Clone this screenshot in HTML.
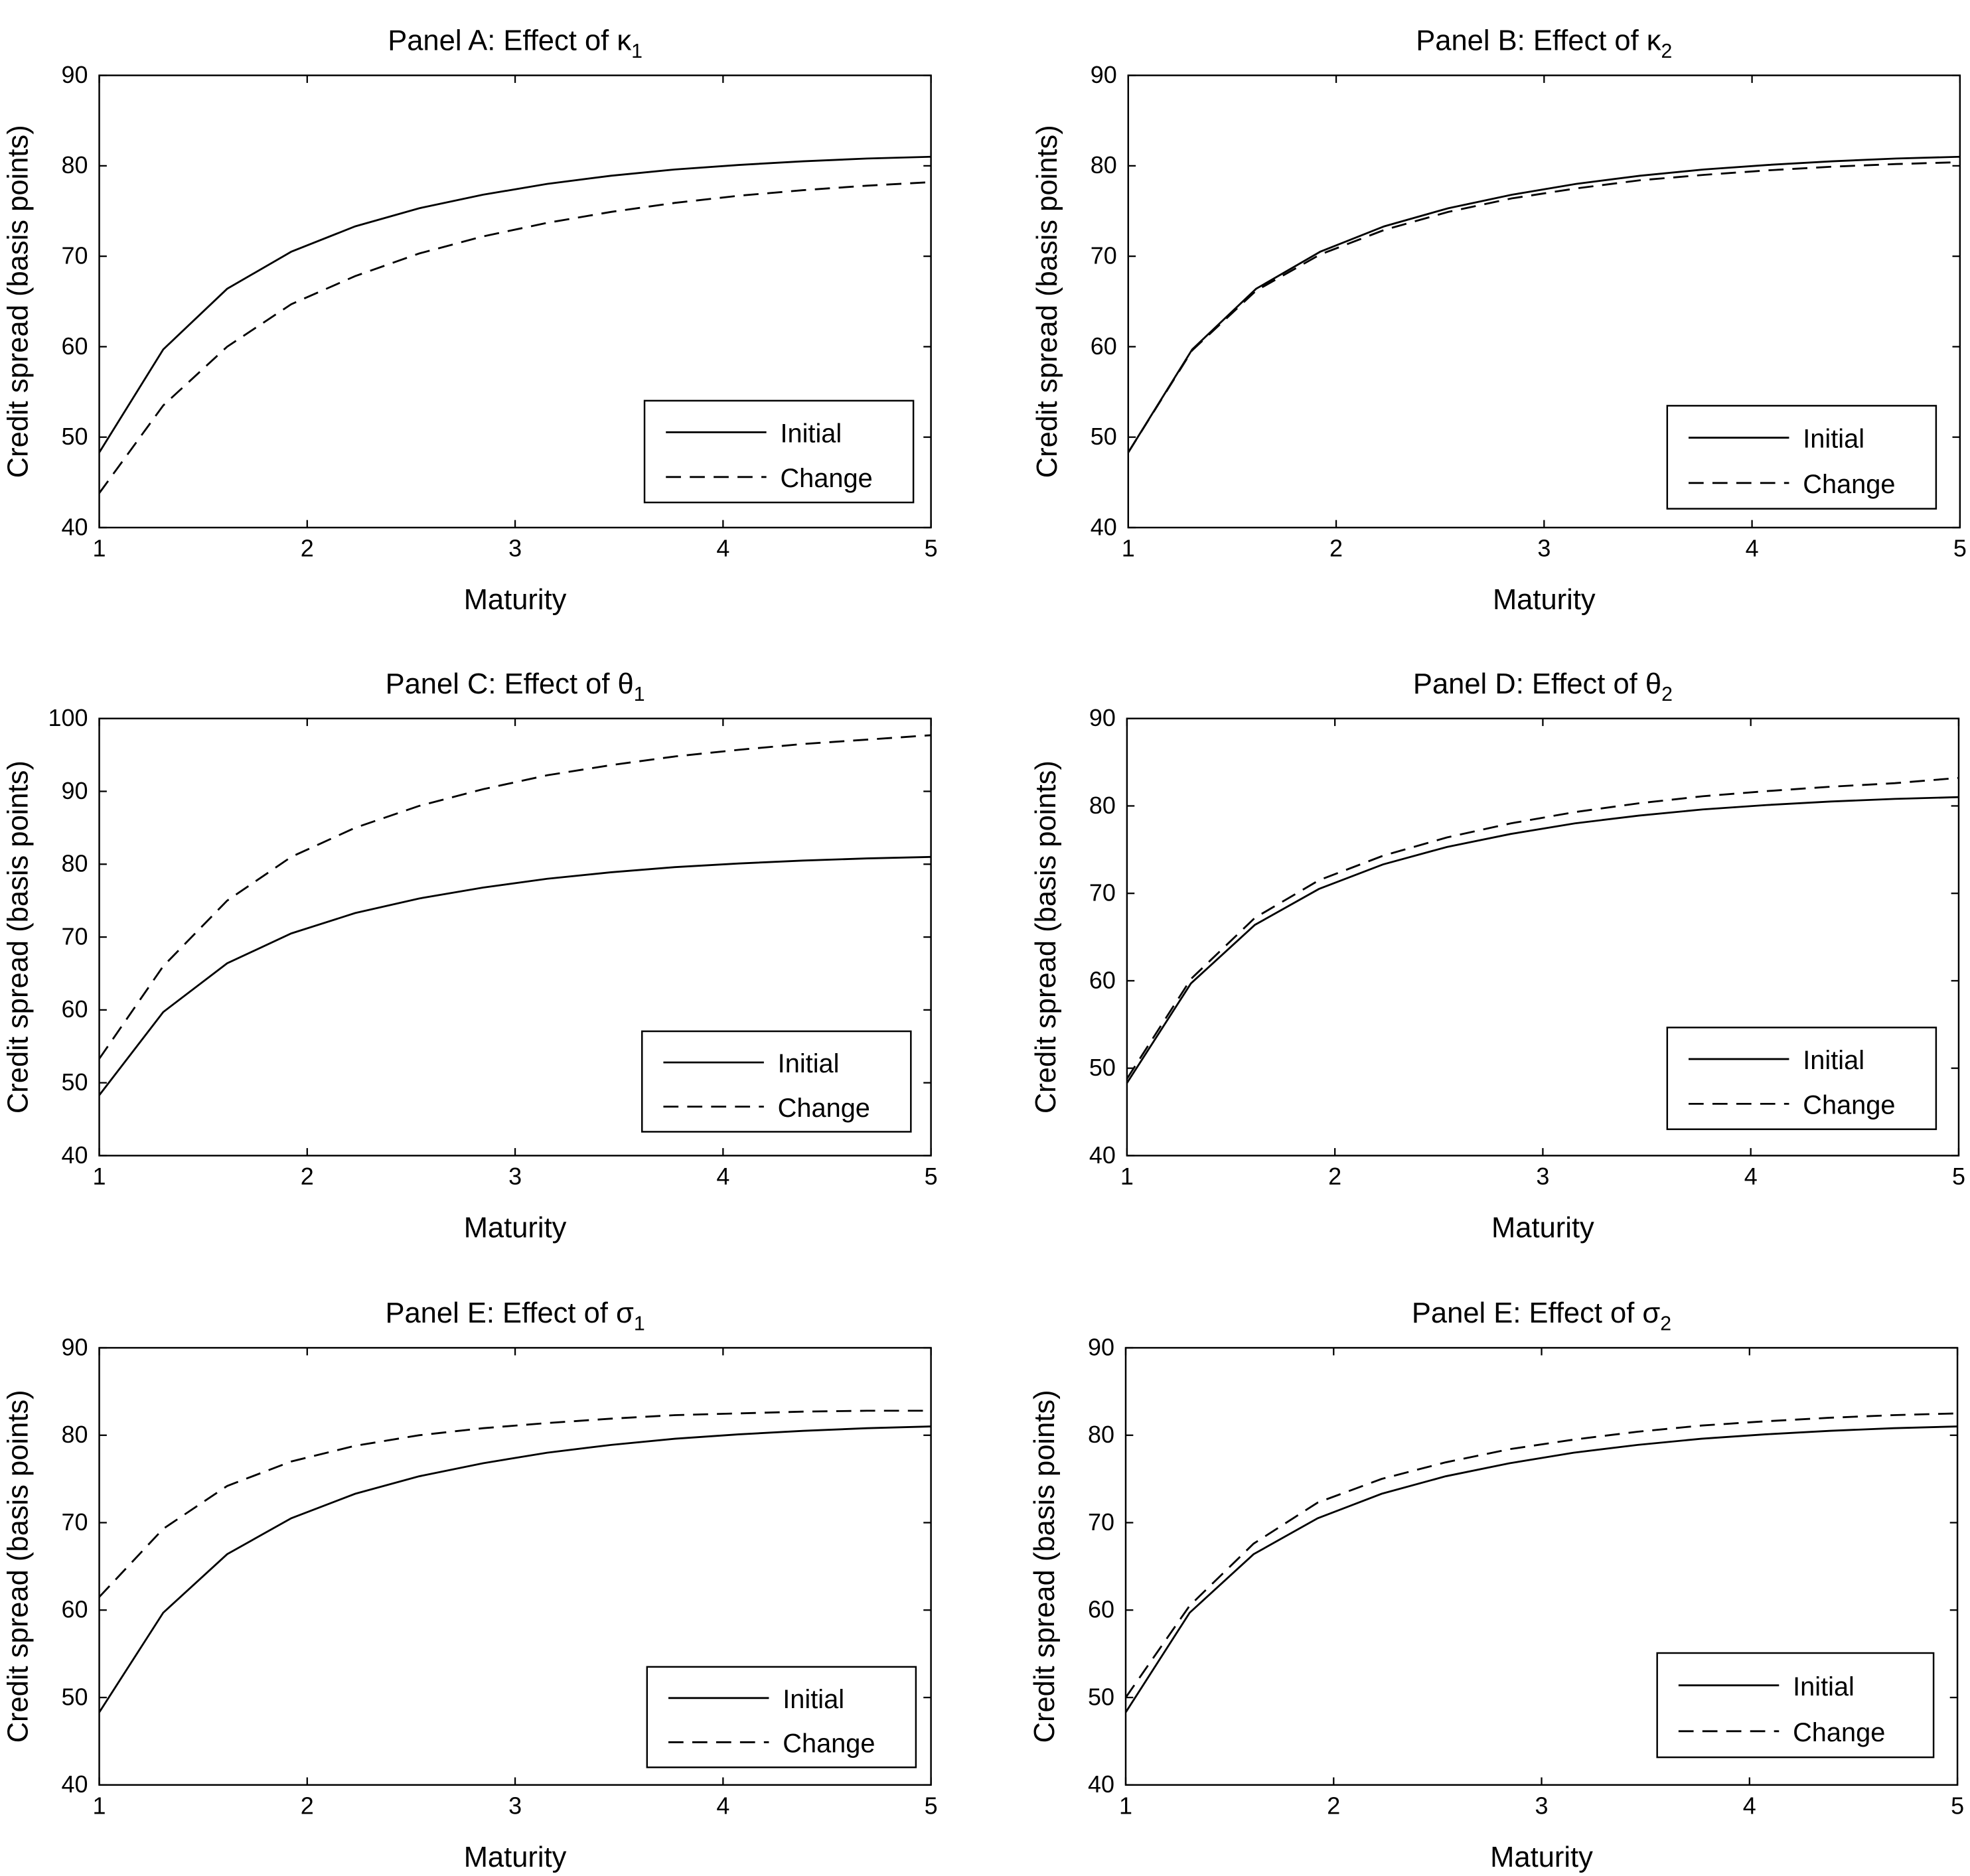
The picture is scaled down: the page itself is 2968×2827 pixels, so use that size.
<!DOCTYPE html>
<html><head><meta charset="utf-8"><style>
html,body{margin:0;padding:0;background:#fff;}
svg{display:block;font-family:"Liberation Sans",sans-serif;}
</style></head><body>
<svg id="chart" width="2968" height="2827" viewBox="0 0 1568 1493.5" xmlns="http://www.w3.org/2000/svg"></svg>
<script>
const maturities = [1,1.3077,1.6154,1.9231,2.2308,2.5385,2.8462,3.1538,3.4615,3.7692,4.0769,4.3846,4.6923,5];
const initialSeries = [48.3,59.7,66.4,70.5,73.3,75.3,76.8,78.0,78.9,79.6,80.1,80.5,80.8,81.0];
const changeA = [43.8,53.5,60,64.7,67.8,70.3,72.2,73.7,74.9,75.9,76.7,77.3,77.8,78.2];
const changeB = [48.3,59.6,66.2,70.2,72.9,74.9,76.4,77.5,78.4,79.0,79.5,79.9,80.2,80.4];
const changeC = [53.3,66,75,81,85,88,90.3,92.2,93.6,94.8,95.7,96.5,97.1,97.7];
const changeD = [48.8,60.2,67.2,71.5,74.3,76.4,78,79.3,80.3,81.1,81.7,82.2,82.6,83.2];
const changeE = [61.5,69.3,74.2,77,78.8,80,80.8,81.4,81.9,82.3,82.5,82.7,82.8,82.8];
const changeF = [50,60.5,67.6,72.3,75,76.9,78.4,79.5,80.4,81.1,81.6,82,82.3,82.5];
const xTicks = [1,2,3,4,5];
const yTicks90 = [40,50,60,70,80,90];
const yTicks100 = [40,50,60,70,80,90,100];
const panelTitles = ["Panel A: Effect of ","Panel B: Effect of ","Panel C: Effect of ","Panel D: Effect of ","Panel E: Effect of ","Panel E: Effect of "];
const panelSymbols = ["κ","κ","θ","θ","σ","σ"];
const panelSubs = ["1","2","1","2","1","2"];
const changeSeries = [changeA,changeB,changeC,changeD,changeE,changeF];

const layouts = [
 {x0:79,x1:741,y0:60,y1:420,ymax:90,lg:[513,319,727,400]},
 {x0:898,x1:1560,y0:60,y1:420,ymax:90,lg:[1327,323,1541,405]},
 {x0:79,x1:741,y0:572,y1:920,ymax:100,lg:[511,821,725,901]},
 {x0:897,x1:1559,y0:572,y1:920,ymax:90,lg:[1327,818,1541,899]},
 {x0:79,x1:741,y0:1073,y1:1421,ymax:90,lg:[515,1327,729,1407]},
 {x0:896,x1:1558,y0:1073,y1:1421,ymax:90,lg:[1319,1316,1539,1399]}
];
const NS="http://www.w3.org/2000/svg";
const svg=document.getElementById('chart');
function mk(tag,attrs,parent){const e=document.createElementNS(NS,tag);for(const k in attrs)e.setAttribute(k,attrs[k]);(parent||svg).appendChild(e);return e;}

layouts.forEach((L,i)=>{
 const g=mk('g',{});
 
 
 const yt = L.ymax===100?yTicks100:yTicks90;
 const sx=v=>L.x0+(v-1)/4*(L.x1-L.x0);
 const sy=v=>L.y1-(v-40)/(L.ymax-40)*(L.y1-L.y0);
 const box=mk('rect',{x:L.x0,y:L.y0,width:L.x1-L.x0,height:L.y1-L.y0,fill:'none',stroke:'#000','stroke-width':1.3},g);
 
 
 xTicks.forEach(t=>{
  const x=sx(t);
  mk('line',{x1:x,x2:x,y1:L.y1,y2:L.y1-6,stroke:'#000','stroke-width':1.2},g);
  mk('line',{x1:x,x2:x,y1:L.y0,y2:L.y0+6,stroke:'#000','stroke-width':1.2},g);
  const tx=mk('text',{x:x,y:L.y1+23,'font-size':19,'text-anchor':'middle'},g);tx.textContent=t;
  
  
 });
 yt.forEach(t=>{
  const y=sy(t);
  mk('line',{x1:L.x0,x2:L.x0+6,y1:y,y2:y,stroke:'#000','stroke-width':1.2},g);
  mk('line',{x1:L.x1,x2:L.x1-6,y1:y,y2:y,stroke:'#000','stroke-width':1.2},g);
  const tx=mk('text',{x:L.x0-9,y:y+6,'font-size':19,'text-anchor':'end'},g);tx.textContent=t;
  
  
 });
 const pts=s=>s.map((v,k)=>sx(maturities[k]).toFixed(1)+','+sy(v).toFixed(1)).join(' ');
 const l1=mk('polyline',{points:pts(initialSeries),fill:'none',stroke:'#000','stroke-width':1.5},g);
 
 
 const l2=mk('polyline',{points:pts(changeSeries[i]),fill:'none',stroke:'#000','stroke-width':1.5,'stroke-dasharray':'12,7'},g);
 
 
 const tt=mk('text',{x:(L.x0+L.x1)/2,y:L.y0-20,'font-size':23,'text-anchor':'middle'},g);
 
 
 tt.appendChild(document.createTextNode(panelTitles[i]+panelSymbols[i]));
 const sub=mk('tspan',{'font-size':16,dy:6},tt);sub.textContent=panelSubs[i];
 const xl=mk('text',{x:(L.x0+L.x1)/2,y:L.y1+65,'font-size':23,'text-anchor':'middle'},g);xl.textContent='Maturity';
 
 
 const cy=(L.y0+L.y1)/2, cx=L.x0-57;
 const yl=mk('text',{x:cx,y:cy,'font-size':23,'text-anchor':'middle',transform:`rotate(-90 ${cx} ${cy})`},g);yl.textContent='Credit spread (basis points)';
 
 
 const [a,b,c,d]=L.lg;
 const lg=mk('g',{},g);
 
 
 mk('rect',{x:a,y:b,width:c-a,height:d-b,fill:'#fff',stroke:'#000','stroke-width':1.3},lg);
 const r1=b+(d-b)*0.31, r2=b+(d-b)*0.75;
 mk('line',{x1:a+17,x2:a+97,y1:r1,y2:r1,stroke:'#000','stroke-width':1.5},lg);
 mk('line',{x1:a+17,x2:a+97,y1:r2,y2:r2,stroke:'#000','stroke-width':1.5,'stroke-dasharray':'12,7'},lg);
 const e1=mk('text',{x:a+108,y:r1+8,'font-size':21},lg);e1.textContent='Initial';
 
 
 const e2=mk('text',{x:a+108,y:r2+8,'font-size':21},lg);e2.textContent='Change';
 
 
});
</script>
</body></html>
